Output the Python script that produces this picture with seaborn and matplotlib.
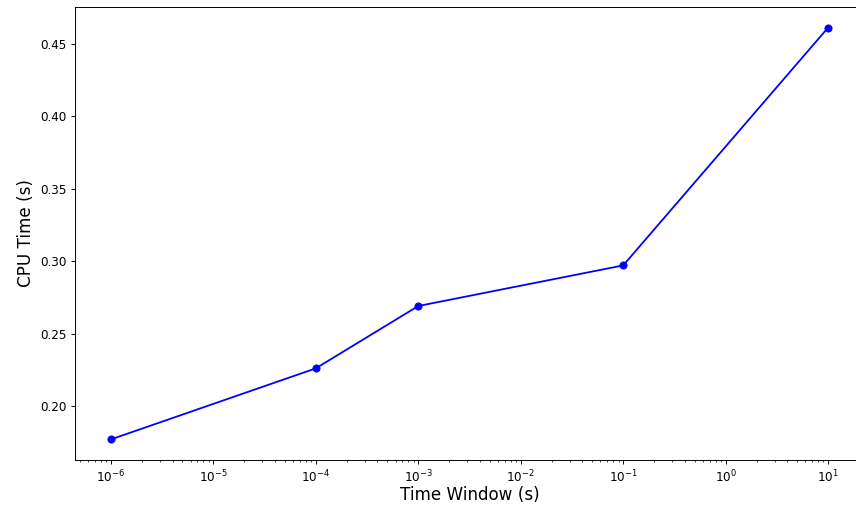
import matplotlib
matplotlib.use("Agg")
import matplotlib.pyplot as plt
import numpy as np
import pandas as pd
import seaborn as sns

time_window = [1e-6, 1e-4, 1e-3, 1e-1, 1e1]
cpu_time = [0.177, 0.226, 0.269, 0.297, 0.461]

df = pd.DataFrame({"window": time_window, "cpu": cpu_time})

dpi = 86
fig, ax = plt.subplots(figsize=(856 / dpi, 505 / dpi), dpi=dpi)
sns.lineplot(data=df, x="window", y="cpu", ax=ax, color="blue",
             marker="o", markersize=6, markeredgecolor="blue", linewidth=1.5)
ax.set_xscale("log")
ax.set_xlabel("Time Window (s)", fontsize=14, labelpad=1)
ax.set_ylabel("CPU Time (s)", fontsize=14)
ax.set_yticks([0.20, 0.25, 0.30, 0.35, 0.40, 0.45])
# the original was cropped on the right, so the axes run past the edge
plt.subplots_adjust(left=75 / 856, right=864 / 856, bottom=45 / 505, top=498 / 505)
plt.savefig("out.png", dpi=dpi)
